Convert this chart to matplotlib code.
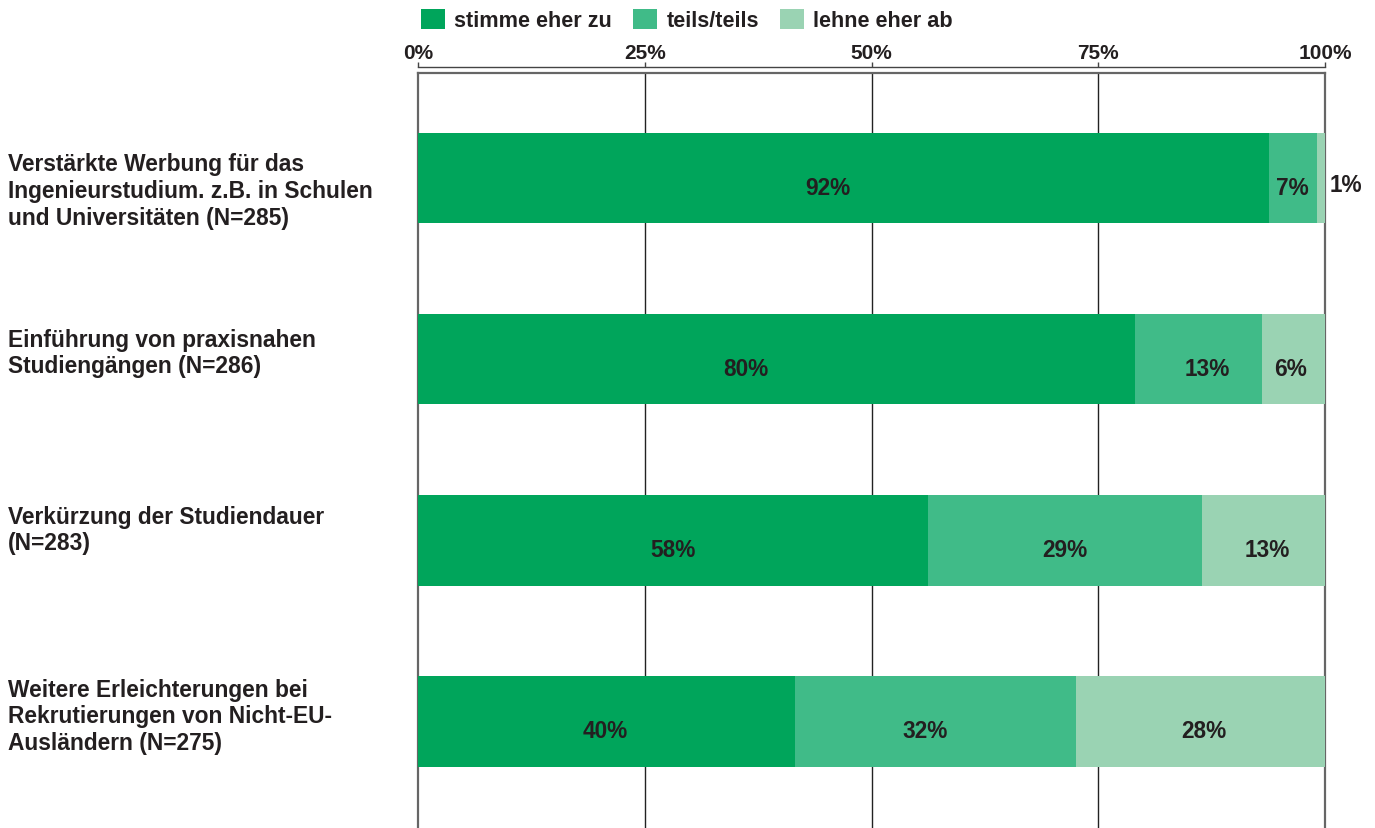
import matplotlib
matplotlib.use("Agg")
import matplotlib.pyplot as plt
from matplotlib.patches import Patch

plt.rcParams['font.family'] = ['Liberation Sans', 'DejaVu Sans']
plt.rcParams['font.weight'] = 'bold'

categories = [
    "Verstärkte Werbung für das\nIngenieurstudium. z.B. in Schulen\nund Universitäten (N=285)",
    "Einführung von praxisnahen\nStudiengängen (N=286)",
    "Verkürzung der Studiendauer\n(N=283)",
    "Weitere Erleichterungen bei\nRekrutierungen von Nicht-EU-\nAusländern (N=275)",
]
series_names = ["stimme eher zu", "teils/teils", "lehne eher ab"]
# segment widths as drawn (percent)
stimme = [93.8, 79.1, 56.2, 41.6]
teils = [5.3, 13.9, 30.2, 31.0]
lehne = [0.9, 7.0, 13.6, 27.4]
# printed value labels
stimme_lbl = ["92%", "80%", "58%", "40%"]
teils_lbl = ["7%", "13%", "29%", "32%"]
lehne_lbl = ["1%", "6%", "13%", "28%"]
xticks = [0, 25, 50, 75, 100]
xtick_labels = ["0%", "25%", "50%", "75%", "100%"]

colors = ["#00A55B", "#40BB88", "#9AD3B3"]
text_color = "#231F20"

W, H = 1375, 829
fig = plt.figure(figsize=(W / 100, H / 100), dpi=100)
ax = fig.add_axes([418 / W, 0, (1325 - 418) / W, 1 - 74 / H])

ypos = list(range(len(categories)))
bar_h = 0.5
series = [stimme, teils, lehne]
labels = [stimme_lbl, teils_lbl, lehne_lbl]
# horizontal nudges of value labels in pixels [series][category]
label_dx = [[-16, -31, 0, -1], [0, 9, 0, -11], [0, -3, 4, 3]]
label_dy = -9  # pixels
left = [0.0] * len(categories)
for s, vals in enumerate(series):
    ax.barh(ypos, vals, left=left, height=bar_h, color=colors[s], zorder=3, linewidth=0)
    for i, v in enumerate(vals):
        if v >= 3:
            ax.annotate(labels[s][i], xy=(left[i] + v / 2, ypos[i]),
                        xytext=(label_dx[s][i], label_dy), textcoords='offset pixels',
                        ha='center', va='center', fontsize=16.3, fontweight='bold',
                        color=text_color, zorder=4)
        else:
            ax.annotate(labels[s][i], xy=(100, ypos[i]), xytext=(5, -6),
                        textcoords='offset pixels', ha='left', va='center',
                        fontsize=16.3, fontweight='bold', color=text_color,
                        annotation_clip=False)
    left = [l + v for l, v in zip(left, vals)]

ax.set_xlim(0, 100)
ax.set_ylim(3.588, -0.58)

# grid lines
for g in [25, 50, 75]:
    ax.axvline(g, color="#222222", linewidth=1.0, zorder=1)

# frame
for side in ['left', 'right']:
    ax.spines[side].set_color("#666666")
    ax.spines[side].set_linewidth(1.6)
ax.spines['bottom'].set_visible(False)
ax.spines['top'].set_position(('outward', 4.3))
ax.spines['top'].set_color("#444444")
ax.spines['top'].set_linewidth(1.0)
ax.axhline(-0.58, color="#666666", linewidth=1.6, clip_on=False, zorder=5)

ax.xaxis.tick_top()
ax.set_xticks(xticks)
ax.set_xticklabels(xtick_labels)
ax.tick_params(axis='x', direction='out', length=3.6, width=1.0, color="#444444",
               pad=0.3, labelsize=15, labelcolor=text_color)
for t in ax.get_xticklabels():
    t.set_fontweight('bold')
ax.set_yticks([])

# category labels
label_offsets = [-12.5, 6.7, 10.8, 5.5]  # pixels (positive = up)
for i, cat in enumerate(categories):
    ax.annotate(cat, xy=(8, ypos[i]), xycoords=('figure pixels', 'data'),
                xytext=(0, label_offsets[i]), textcoords='offset pixels',
                ha='left', va='center', fontsize=16.4, fontweight='bold',
                color=text_color, linespacing=1.2, annotation_clip=False)

handles = [Patch(facecolor=c, edgecolor='none') for c in colors]
fig.legend(handles, series_names, loc='center left',
           bbox_to_anchor=(421 / W, 1 - 21 / H), ncol=3, frameon=False,
           prop={'weight': 'bold', 'size': 15.6}, handlelength=1.1,
           handleheight=1.05, handletextpad=0.42, columnspacing=1.0,
           borderaxespad=0, borderpad=0, labelcolor=text_color)

fig.savefig("out.png", dpi=100)
